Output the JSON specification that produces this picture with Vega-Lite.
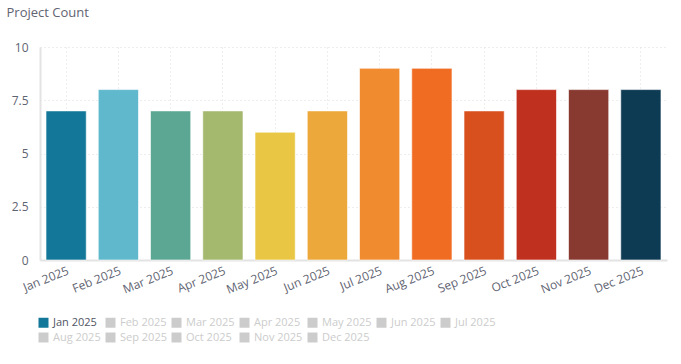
{
  "$schema": "https://vega.github.io/schema/vega-lite/v6.json",
  "width": 627,
  "height": 213,
  "autosize": "none",
  "padding": {"left": 40, "top": 47, "right": 14, "bottom": 104},
  "background": "white",
  "config": {
    "font": "Open Sans",
    "view": {"stroke": null},
    "axis": {"labelFont": "Open Sans", "titleFont": "Open Sans"}
  },
  "data": {
    "values": [
      {"month": "Jan 2025", "count": 7},
      {"month": "Feb 2025", "count": 8},
      {"month": "Mar 2025", "count": 7},
      {"month": "Apr 2025", "count": 7},
      {"month": "May 2025", "count": 6},
      {"month": "Jun 2025", "count": 7},
      {"month": "Jul 2025", "count": 9},
      {"month": "Aug 2025", "count": 9},
      {"month": "Sep 2025", "count": 7},
      {"month": "Oct 2025", "count": 8},
      {"month": "Nov 2025", "count": 8},
      {"month": "Dec 2025", "count": 8}
    ]
  },
  "encoding": {
    "x": {
      "field": "month",
      "type": "nominal",
      "sort": null,
      "scale": {"paddingInner": 0.23, "paddingOuter": 0.115},
      "axis": {
        "title": null,
        "labelAngle": -22,
        "labelAlign": "right",
        "labelBaseline": "top",
        "labelFontSize": 12,
        "labelColor": "#5f6472",
        "labelPadding": 5,
        "ticks": false,
        "domainColor": "#e3e3e3",
        "domainWidth": 2,
        "grid": true,
        "bandPosition": 0.5,
        "gridColor": "#dcdcdc",
        "gridDash": [1, 3],
        "gridWidth": 1
      }
    },
    "y": {
      "field": "count",
      "type": "quantitative",
      "scale": {"domain": [0, 10]},
      "axis": {
        "values": [0, 2.5, 5, 7.5, 10],
        "format": ".1~f",
        "title": "Project Count",
        "titleAngle": 0,
        "titleAlign": "left",
        "titleBaseline": "middle",
        "titleX": -34,
        "titleY": -35,
        "titleFontSize": 13,
        "titleFontWeight": "normal",
        "titleColor": "#5f6472",
        "labelFontSize": 12,
        "labelColor": "#5f6472",
        "labelPadding": 12,
        "ticks": false,
        "domainColor": "#e3e3e3",
        "domainWidth": 2,
        "gridColor": "#dcdcdc",
        "gridDash": [1, 3],
        "gridWidth": 1
      }
    }
  },
  "layer": [
    {
      "mark": {"type": "bar", "stroke": "white", "strokeWidth": 1, "strokeOpacity": 0.6},
      "encoding": {
        "color": {
          "field": "month",
          "type": "nominal",
          "sort": null,
          "legend": null,
          "scale": {
            "domain": ["Jan 2025","Feb 2025","Mar 2025","Apr 2025","May 2025","Jun 2025","Jul 2025","Aug 2025","Sep 2025","Oct 2025","Nov 2025","Dec 2025"],
            "range": ["#127798","#60b8cc","#5ca793","#a4b86e","#e9c744","#eca83a","#f08c2f","#ef6c22","#d9501f","#c0301f","#883a31","#0e3b54"]
          }
        }
      }
    },
    {
      "mark": {"type": "point", "opacity": 0, "filled": true, "shape": "square"},
      "encoding": {
        "color": {
          "field": "month",
          "type": "nominal",
          "sort": null,
          "scale": {
            "domain": ["Jan 2025","Feb 2025","Mar 2025","Apr 2025","May 2025","Jun 2025","Jul 2025","Aug 2025","Sep 2025","Oct 2025","Nov 2025","Dec 2025"],
            "range": ["#127798","#cccccc","#cccccc","#cccccc","#cccccc","#cccccc","#cccccc","#cccccc","#cccccc","#cccccc","#cccccc","#cccccc"]
          },
          "legend": {
            "title": null,
            "orient": "none",
            "legendX": -2,
            "legendY": 270,
            "direction": "horizontal",
            "columns": 7,
            "columnPadding": 4,
            "rowPadding": 3,
            "symbolType": "square",
            "symbolSize": 100,
            "symbolOpacity": 1,
            "symbolStrokeWidth": 0,
            "labelFont": "Open Sans",
            "labelFontSize": 11,
            "labelOffset": 4,
            "labelColor": "#cccccc",
            "encode": {
              "labels": {
                "update": {
                  "fill": {"signal": "datum.label === 'Jan 2025' ? '#4f5463' : '#cccccc'"}
                }
              }
            }
          }
        }
      }
    }
  ],
  "resolve": {"scale": {"color": "independent"}}
}
